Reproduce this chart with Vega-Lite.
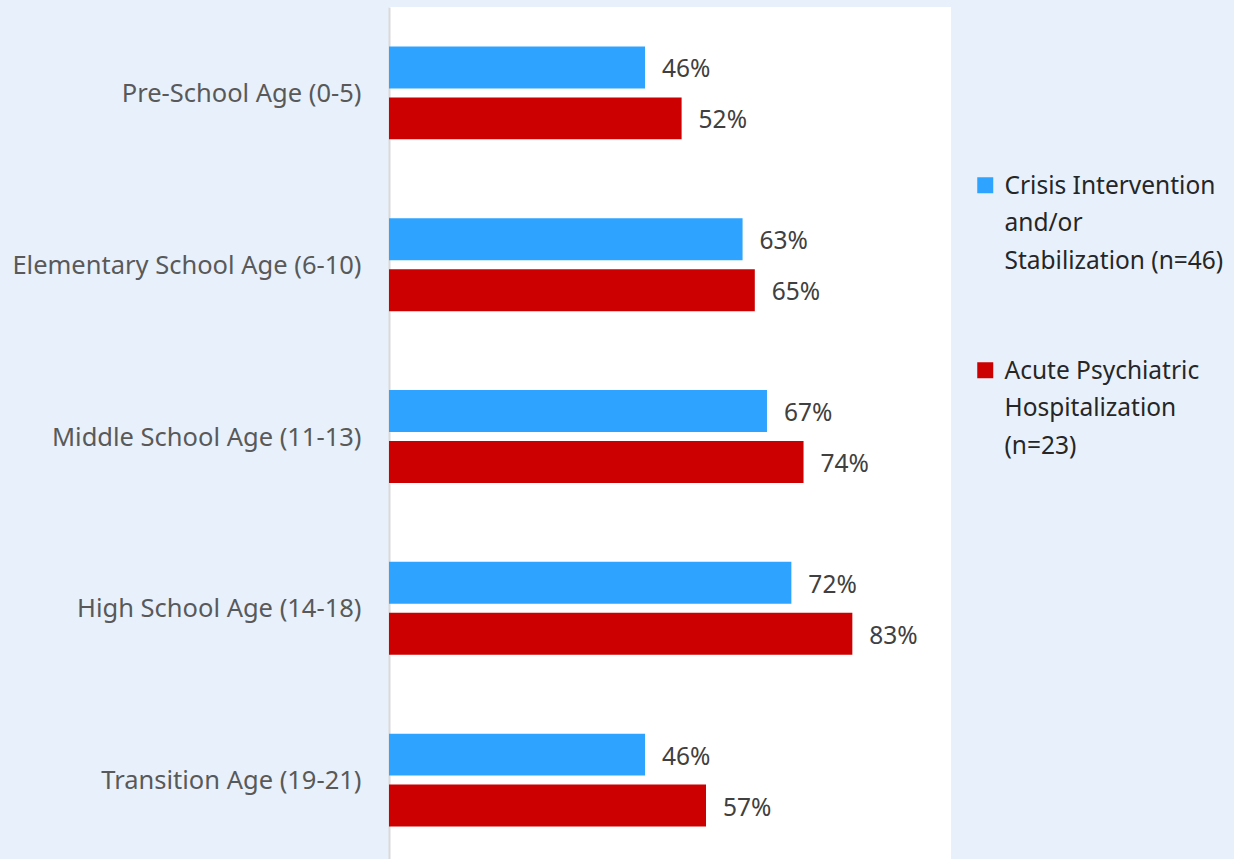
{
  "$schema": "https://vega.github.io/schema/vega-lite/v6.json",
  "width": 562,
  "height": 852,
  "autosize": {"type": "none"},
  "padding": {"left": 389, "top": 7, "right": 283, "bottom": 0},
  "background": "#E8F1FB",
  "config": {"view": {"fill": "white", "stroke": null}, "font": "Noto Sans"},
  "data": {
    "values": [
      {"category": "Pre-School Age (0-5)", "series": "Crisis Intervention and/or Stabilization (n=46)", "value": 0.4565},
      {"category": "Pre-School Age (0-5)", "series": "Acute Psychiatric Hospitalization (n=23)", "value": 0.5217},
      {"category": "Elementary School Age (6-10)", "series": "Crisis Intervention and/or Stabilization (n=46)", "value": 0.6304},
      {"category": "Elementary School Age (6-10)", "series": "Acute Psychiatric Hospitalization (n=23)", "value": 0.6522},
      {"category": "Middle School Age (11-13)", "series": "Crisis Intervention and/or Stabilization (n=46)", "value": 0.6739},
      {"category": "Middle School Age (11-13)", "series": "Acute Psychiatric Hospitalization (n=23)", "value": 0.7391},
      {"category": "High School Age (14-18)", "series": "Crisis Intervention and/or Stabilization (n=46)", "value": 0.7174},
      {"category": "High School Age (14-18)", "series": "Acute Psychiatric Hospitalization (n=23)", "value": 0.8261},
      {"category": "Transition Age (19-21)", "series": "Crisis Intervention and/or Stabilization (n=46)", "value": 0.4565},
      {"category": "Transition Age (19-21)", "series": "Acute Psychiatric Hospitalization (n=23)", "value": 0.5652}
    ]
  },
  "encoding": {
    "y": {
      "field": "category",
      "type": "nominal",
      "sort": ["Pre-School Age (0-5)", "Elementary School Age (6-10)", "Middle School Age (11-13)", "High School Age (14-18)", "Transition Age (19-21)"],
      "scale": {"range": [0, 859], "paddingInner": 0, "paddingOuter": 0},
      "axis": {
        "title": null,
        "ticks": false,
        "labelFontSize": 25.5,
        "labelColor": "#595959",
        "labelPadding": 28,
        "labelLimit": 400,
        "labelOffset": 1,
        "domainColor": "#D9D9D9",
        "domainWidth": 2
      }
    },
    "yOffset": {
      "field": "series",
      "sort": ["Crisis Intervention and/or Stabilization (n=46)", "Acute Psychiatric Hospitalization (n=23)"],
      "scale": {"paddingInner": 0.176, "paddingOuter": 0.775}
    },
    "x": {
      "field": "value",
      "type": "quantitative",
      "scale": {"domain": [0, 1.002]},
      "axis": null
    }
  },
  "layer": [
    {
      "mark": {"type": "bar"},
      "encoding": {
        "color": {
          "field": "series",
          "type": "nominal",
          "scale": {
            "domain": ["Crisis Intervention and/or Stabilization (n=46)", "Acute Psychiatric Hospitalization (n=23)"],
            "range": ["#2EA3FF", "#CC0000"]
          },
          "legend": {
            "orient": "none",
            "legendX": 584,
            "legendY": 166,
            "title": null,
            "symbolType": "square",
            "symbolSize": 256,
            "symbolStrokeWidth": 0,
            "labelFontSize": 24.5,
            "labelColor": "#262626",
            "labelOffset": 7,
            "labelLimit": 300,
            "labelBaseline": "alphabetic",
            "rowPadding": 84,
            "labelExpr": "datum.label == 'Crisis Intervention and/or Stabilization (n=46)' ? ['Crisis Intervention', 'and/or', 'Stabilization (n=46)'] : ['Acute Psychiatric', 'Hospitalization', '(n=23)']",
            "encode": {"labels": {"update": {"lineHeight": {"value": 37.5}, "dy": {"value": 8.5}}}}
          }
        }
      }
    },
    {
      "mark": {"type": "text", "align": "left", "dx": 17, "dy": 3, "fontSize": 24.5, "color": "#404040"},
      "encoding": {
        "text": {"field": "value", "type": "quantitative", "format": ".0%"}
      }
    }
  ]
}
